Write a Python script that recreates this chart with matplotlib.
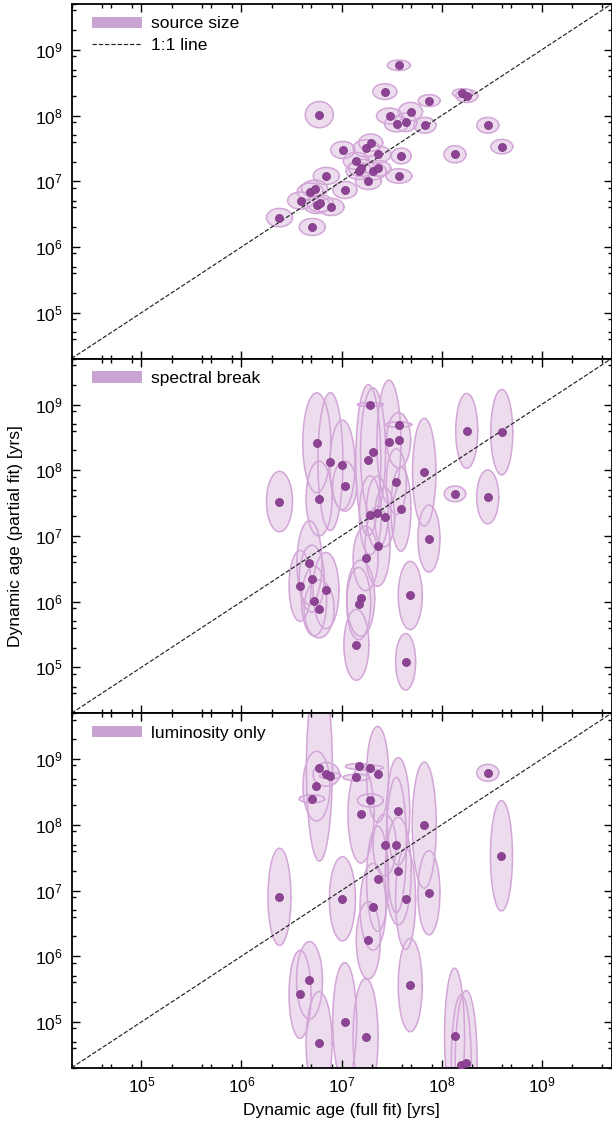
import numpy as np
import matplotlib
matplotlib.use('Agg')
import matplotlib.pyplot as plt
from matplotlib.patches import Patch
from matplotlib.lines import Line2D
from matplotlib.ticker import LogLocator, NullFormatter

plt.rcParams['font.family'] = ['Liberation Sans', 'DejaVu Sans']
plt.rcParams['font.size'] = 12.5

# log10(dynamic age / yr): full fit (x) vs partial fit (y); half-axes of the
# error ellipses in dex
size_x = [6.380, 6.591, 6.688, 6.708, 6.731, 6.754, 6.778, 6.786, 6.848, 6.895,
          7.012, 7.035, 7.148, 7.175, 7.199, 7.246, 7.269, 7.292, 7.316, 7.363,
          7.363, 7.433, 7.480, 7.550, 7.573, 7.573, 7.597, 7.643, 7.690, 7.834,
          7.877, 8.134, 8.209, 8.252, 8.462, 8.602]
size_y = [6.447, 6.706, 6.843, 6.305, 6.888, 6.640, 8.015, 6.665, 7.081, 6.609,
          7.477, 6.868, 7.310, 7.157, 7.203, 7.503, 7.005, 7.589, 7.152, 7.411,
          7.198, 8.365, 7.995, 7.873, 8.766, 7.081, 7.386, 7.898, 8.061, 7.853,
          8.228, 7.411, 8.340, 8.300, 7.853, 7.528]
size_ex = [0.13, 0.13, 0.13, 0.13, 0.13, 0.13, 0.14, 0.13, 0.13, 0.13,
           0.12, 0.12, 0.13, 0.13, 0.13, 0.13, 0.13, 0.12, 0.13, 0.13,
           0.13, 0.12, 0.13, 0.12, 0.115, 0.13, 0.10, 0.11, 0.12, 0.11,
           0.11, 0.11, 0.10, 0.11, 0.11, 0.11]
size_ey = [0.14, 0.13, 0.13, 0.13, 0.13, 0.13, 0.20, 0.13, 0.13, 0.13,
           0.13, 0.13, 0.13, 0.13, 0.13, 0.13, 0.13, 0.13, 0.13, 0.13,
           0.12, 0.12, 0.12, 0.12, 0.08, 0.11, 0.12, 0.14, 0.14, 0.12,
           0.09, 0.13, 0.07, 0.10, 0.12, 0.11]

break_x = [7.288, 7.315, 7.268, 7.474, 7.571, 7.571, 6.753, 6.889, 7.009, 7.032,
           6.776, 7.827, 7.548, 7.594, 7.288, 7.358, 7.431, 7.361, 7.241, 7.874,
           7.687, 7.641, 7.149, 7.192, 7.172, 6.680, 6.703, 6.586, 6.845, 6.726,
           6.776, 6.380, 8.134, 8.252, 8.602, 8.462]
break_y = [9.000, 8.274, 8.152, 8.432, 8.457, 8.695, 8.417, 8.132, 8.081, 7.757,
           7.567, 7.970, 7.828, 7.407, 7.315, 7.356, 7.285, 6.843, 6.656, 6.960,
           6.093, 5.084, 5.342, 6.051, 5.970, 6.590, 6.350, 6.239, 6.169, 6.008,
           5.887, 7.523, 7.640, 8.599, 8.579, 7.594]
break_ex = [0.13, 0.125, 0.125, 0.12, 0.12, 0.13, 0.14, 0.125, 0.125, 0.12,
            0.13, 0.117, 0.10, 0.10, 0.11, 0.11, 0.10, 0.125, 0.125, 0.11,
            0.12, 0.10, 0.125, 0.14, 0.12, 0.125, 0.125, 0.11, 0.13, 0.125,
            0.15, 0.13, 0.107, 0.11, 0.11, 0.11]
break_ey = [0.03, 0.98, 1.15, 0.94, 0.42, 0.04, 0.76, 1.05, 0.68, 0.38,
            0.57, 0.82, 0.50, 0.64, 0.60, 0.55, 0.45, 0.61, 0.49, 0.51,
            0.52, 0.43, 0.54, 0.58, 0.55, 0.64, 0.51, 0.54, 0.58, 0.53,
            0.44, 0.46, 0.12, 0.57, 0.65, 0.41]

lum_x = [6.779, 6.750, 6.703, 6.849, 6.889, 7.172, 7.288, 7.361, 7.149, 7.195,
         7.288, 7.567, 7.827, 7.431, 7.548, 7.567, 7.641, 7.361, 7.315, 7.268,
         7.009, 7.874, 7.687, 6.680, 6.586, 6.776, 7.032, 7.241, 8.462, 8.599,
         8.130, 8.197, 8.246, 6.380]
lum_y = [8.868, 8.589, 8.396, 8.767, 8.746, 8.889, 8.868, 8.767, 8.721, 8.158,
         8.371, 8.204, 7.995, 7.691, 7.691, 7.295, 6.874, 7.178, 6.752, 6.240,
         6.874, 6.965, 5.560, 5.632, 5.419, 4.671, 5.002, 4.769, 8.792, 7.528,
         4.788, 4.342, 4.368, 6.904]
lum_ex = [0.13, 0.135, 0.128, 0.133, 0.108, 0.133, 0.125, 0.11, 0.133, 0.13,
          0.128, 0.115, 0.12, 0.115, 0.10, 0.13, 0.10, 0.11, 0.13, 0.12,
          0.13, 0.11, 0.12, 0.13, 0.11, 0.13, 0.12, 0.125, 0.11, 0.11,
          0.10, 0.10, 0.11, 0.115]
lum_ey = [1.42, 0.53, 0.06, 0.18, 0.05, 0.046, 0.04, 0.73, 0.05, 0.74,
          0.10, 0.82, 0.96, 0.47, 1.03, 0.82, 0.77, 0.80, 0.66, 0.59,
          0.64, 0.64, 0.71, 0.59, 0.67, 0.79, 0.90, 0.89, 0.13, 0.84,
          1.03, 1.07, 1.11, 0.74]

panels = [
    ('source size', size_x, size_y, size_ex, size_ey),
    ('spectral break', break_x, break_y, break_ex, break_ey),
    ('luminosity only', lum_x, lum_y, lum_ex, lum_ey),
]

lims = [2e4, 5e9]
fill_c = '#ecdcee'
edge_c = '#d3a6d8'
dot_c = '#8e4494'
swatch_c = '#c9a3d1'

fig = plt.figure(figsize=(6.12, 11.24), dpi=100)
left, width = 71.5 / 612, 540.0 / 612
h = 354.6 / 1124
tops = [4.0, 358.6, 713.2]
t = np.linspace(0, 2 * np.pi, 200)

for i, (name, xs, ys, exs, eys) in enumerate(panels):
    ax = fig.add_axes([left, 1 - (tops[i] / 1124) - h, width, h])
    ax.set_xscale('log')
    ax.set_yscale('log')
    ax.set_xlim(lims)
    ax.set_ylim(lims)

    for lx, ly, ex, ey in zip(xs, ys, exs, eys):
        ex_pts = 10 ** (lx + ex * np.cos(t))
        ey_pts = 10 ** (ly + ey * np.sin(t))
        ax.fill(ex_pts, ey_pts, color=fill_c, lw=0, zorder=1)
        ax.plot(ex_pts, ey_pts, color=edge_c, lw=1.1, zorder=2)

    ax.plot(lims, lims, color='#222222', ls='--', lw=0.85, zorder=3)
    ax.plot(10 ** np.array(xs), 10 ** np.array(ys), 'o', ms=5.8,
            mfc=dot_c, mec='#7a3580', mew=0.5, zorder=4)

    for axis in (ax.xaxis, ax.yaxis):
        axis.set_major_locator(LogLocator(base=10, numticks=12))
        axis.set_minor_locator(LogLocator(base=10, subs=[2, 4, 5, 8], numticks=12))
        axis.set_minor_formatter(NullFormatter())
    ax.tick_params(which='both', direction='in', top=True, right=True,
                   width=1.0, labelsize=12.5)
    ax.tick_params(which='major', length=6)
    ax.tick_params(which='minor', length=3)
    ax.tick_params(axis='y', pad=6.5)
    ax.tick_params(axis='x', pad=5.5, labelbottom=(i == 2))
    for sp in ax.spines.values():
        sp.set_linewidth(1.3)

    handles = [Patch(facecolor=swatch_c, edgecolor='none', label=name)]
    if i == 0:
        handles.append(Line2D([], [], color='#222222', ls='--', lw=0.85,
                              label='1:1 line'))
    ax.legend(handles=handles, loc='upper left', bbox_to_anchor=(0.038, 0.965),
              frameon=False, borderpad=0, borderaxespad=0, handlelength=2.87,
              handleheight=0.63, handletextpad=0.5, labelspacing=0.4,
              fontsize=12.5)

fig.text(15.5 / 612, 1 - 536 / 1124, 'Dynamic age (partial fit) [yrs]',
         rotation=90, ha='center', va='center', fontsize=12.5)
fig.text(341.4 / 612, 1 - 1111 / 1124, 'Dynamic age (full fit) [yrs]',
         ha='center', va='center', fontsize=12.5)

fig.savefig('out.png', dpi=100)
